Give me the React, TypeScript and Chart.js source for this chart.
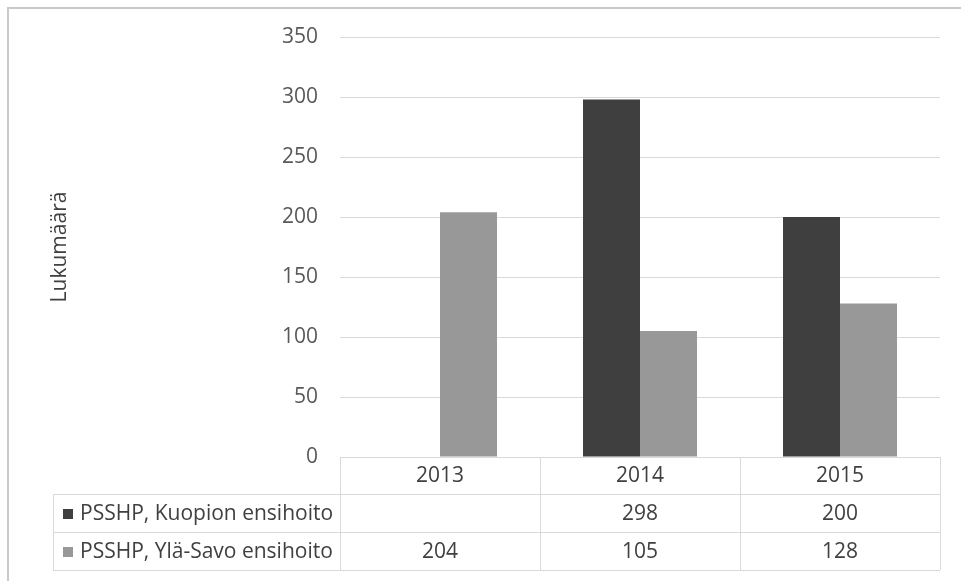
import React, { useEffect, useRef } from "react";
import { Chart, registerables } from "chart.js";

Chart.register(...registerables);

// Vuodet ja sarjat
const years = ["2013", "2014", "2015"];
const kuopioLabel = "PSSHP, Kuopion ensihoito";
const ylaSavoLabel = "PSSHP, Ylä-Savo ensihoito";
const kuopioValues: (number | null)[] = [null, 298, 200];
const ylaSavoValues: (number | null)[] = [204, 105, 128];
const yTicks = [0, 50, 100, 150, 200, 250, 300, 350];

const FONT = "'Open Sans', 'DejaVu Sans', sans-serif";
const DARK = "#3f3f3f";
const LIGHT = "#989898";
const LINE = "#d9d9d9";
const TEXT = "#404040";

// Taulukko kaavion alla: otsikkorivi (vuodet) ja rivi kullekin sarjalle
const dataTablePlugin = {
  id: "dataTable",
  afterDraw(chart: any) {
    const ctx = chart.ctx as CanvasRenderingContext2D;
    const x = chart.scales.x;
    const area = chart.chartArea;
    const step = x.getPixelForValue(1) - x.getPixelForValue(0);
    const half = step / 2;
    const left = x.getPixelForValue(0) - half;
    const right = x.getPixelForValue(years.length - 1) + half;
    const tableLeft = 53;
    const headTop = area.bottom;
    const rowTops = [headTop, headTop + 37, headTop + 75, headTop + 113];

    ctx.save();
    ctx.strokeStyle = LINE;
    ctx.lineWidth = 1;
    const h = (y: number, x0: number, x1: number) => {
      ctx.beginPath();
      ctx.moveTo(x0, Math.round(y) + 0.5);
      ctx.lineTo(x1, Math.round(y) + 0.5);
      ctx.stroke();
    };
    const v = (xx: number, y0: number, y1: number) => {
      ctx.beginPath();
      ctx.moveTo(Math.round(xx) + 0.5, y0);
      ctx.lineTo(Math.round(xx) + 0.5, y1);
      ctx.stroke();
    };
    h(rowTops[0], left, right);
    h(rowTops[1], tableLeft, right);
    h(rowTops[2], tableLeft, right);
    h(rowTops[3], tableLeft, right);
    v(tableLeft, rowTops[1], rowTops[3]);
    for (let i = 0; i <= years.length; i++) {
      v(left + i * step, rowTops[0], rowTops[3]);
    }

    ctx.font = `21px ${FONT}`;
    ctx.fillStyle = TEXT;
    ctx.textBaseline = "middle";
    ctx.textAlign = "center";
    years.forEach((yr, i) => {
      const cx = x.getPixelForValue(i);
      ctx.fillText(yr, cx, (rowTops[0] + rowTops[1]) / 2 + 1);
    });

    const rows = [
      { label: kuopioLabel, color: DARK, values: kuopioValues },
      { label: ylaSavoLabel, color: LIGHT, values: ylaSavoValues },
    ];
    rows.forEach((row, r) => {
      const cy = (rowTops[r + 1] + rowTops[r + 2]) / 2 + 1;
      ctx.fillStyle = row.color;
      ctx.fillRect(63, cy - 5, 10, 10);
      ctx.fillStyle = TEXT;
      ctx.textAlign = "left";
      ctx.fillText(row.label, 80, cy);
      ctx.textAlign = "center";
      row.values.forEach((val, i) => {
        if (val !== null) ctx.fillText(String(val), x.getPixelForValue(i), cy);
      });
    });

    // Kaavion kehys
    ctx.fillStyle = "#c9c9c9";
    ctx.fillRect(7, 7, chart.width - 7, 2);
    ctx.fillRect(7, 7, 2, chart.height - 7);
    ctx.restore();
  },
};

export default function App() {
  const canvasRef = useRef<HTMLCanvasElement | null>(null);

  useEffect(() => {
    if (!canvasRef.current) return;
    const chart = new Chart(canvasRef.current, {
      type: "bar",
      data: {
        labels: years,
        datasets: [
          {
            label: kuopioLabel,
            data: kuopioValues,
            backgroundColor: DARK,
            barPercentage: 1,
            categoryPercentage: 0.57,
          },
          {
            label: ylaSavoLabel,
            data: ylaSavoValues,
            backgroundColor: LIGHT,
            barPercentage: 1,
            categoryPercentage: 0.57,
          },
        ],
      },
      options: {
        responsive: false,
        animation: false,
        devicePixelRatio: 1,
        layout: { padding: { left: 8, right: 21, top: 37, bottom: 124 } },
        plugins: {
          legend: { display: false },
          tooltip: { enabled: false },
          title: { display: false },
        },
        scales: {
          x: { display: false },
          y: {
            min: 0,
            max: 350,
            afterFit(scale: any) {
              scale.width = 332;
            },
            afterBuildTicks(scale: any) {
              scale.ticks = yTicks.map((value) => ({ value }));
            },
            border: { display: false },
            grid: { color: LINE, lineWidth: 1, drawTicks: false },
            ticks: {
              padding: 22,
              color: "#595959",
              font: { family: FONT, size: 21 },
            },
            title: {
              display: true,
              text: "Lukumäärä",
              color: TEXT,
              font: { family: FONT, size: 21 },
              padding: { top: 39, bottom: 0 },
            },
          },
        },
      },
      plugins: [dataTablePlugin],
    });
    return () => chart.destroy();
  }, []);

  return (
    <div style={{ position: "absolute", left: 0, top: 0, width: 961, height: 581, background: "#fff" }}>
      <canvas ref={canvasRef} width={961} height={581} />
    </div>
  );
}
